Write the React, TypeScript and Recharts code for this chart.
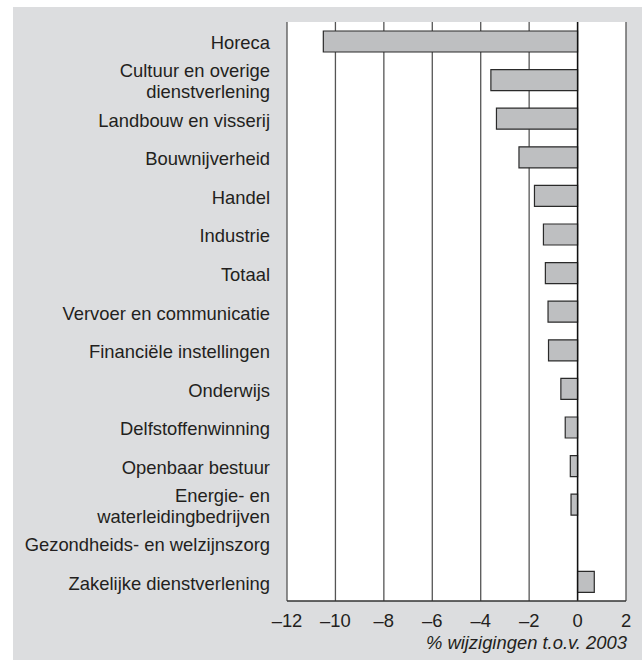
import React from 'react';
import { BarChart, Bar, XAxis, YAxis, CartesianGrid, ReferenceLine, Label } from 'recharts';

const categories = [
  'Horeca',
  'Cultuur en overige\ndienstverlening',
  'Landbouw en visserij',
  'Bouwnijverheid',
  'Handel',
  'Industrie',
  'Totaal',
  'Vervoer en communicatie',
  'Financiële instellingen',
  'Onderwijs',
  'Delfstoffenwinning',
  'Openbaar bestuur',
  'Energie- en\nwaterleidingbedrijven',
  'Gezondheids- en welzijnszorg',
  'Zakelijke dienstverlening',
];

const values = [-10.5, -3.58, -3.35, -2.42, -1.78, -1.41, -1.33, -1.22, -1.2, -0.69, -0.51, -0.3, -0.27, 0, 0.69];

const xTicks = [-12, -10, -8, -6, -4, -2, 0, 2];
const axisTitle = '% wijzigingen t.o.v. 2003';

const data = categories.map((name, i) => ({ name, value: values[i] }));

const FONT = '"Liberation Sans", Arial, Helvetica, sans-serif';
const TEXT = '#231f20';
const FS = 18.4;

function YTick(props: any) {
  const { x, y, payload } = props;
  const lines: string[] = String(payload.value).split('\n');
  const lh = 21;
  const start = y + 8 - ((lines.length - 1) * lh) / 2;
  return (
    <text x={x} y={start} textAnchor="end" fontSize={FS} fill={TEXT} fontFamily={FONT}>
      {lines.map((l, i) => (
        <tspan key={i} x={x} y={start + i * lh}>
          {l}
        </tspan>
      ))}
    </text>
  );
}

function fmt(v: number) {
  return v < 0 ? '\u2013' + Math.abs(v) : String(v);
}

function TitleContent(props: any) {
  const vb = props.viewBox || {};
  return (
    <text
      x={vb.x + vb.width + 1}
      y={vb.y + 48}
      textAnchor="end"
      fontSize={FS}
      fontStyle="italic"
      fill={TEXT}
      fontFamily={FONT}
    >
      {axisTitle}
    </text>
  );
}

export default function App() {
  return (
    <div style={{ position: 'absolute', left: 0, top: 0, width: 642, height: 660 }}>
      <div
        style={{
          position: 'absolute',
          left: 13,
          top: 7,
          width: 629,
          height: 653,
          background: '#dcdddf',
        }}
      />
      <div style={{ position: 'absolute', left: 0, top: 0 }}>
        <BarChart
          width={642}
          height={660}
          data={data}
          layout="vertical"
          margin={{ top: 22, right: 16, bottom: 0, left: 17 }}
          barSize={21}
        >
          <CartesianGrid horizontal={false} vertical stroke="#555" strokeWidth={1.3} fill="#ffffff" fillOpacity={1} />
          <XAxis
            type="number"
            domain={[-12, 2]}
            ticks={xTicks}
            tickFormatter={fmt}
            height={59}
            tickSize={0}
            tickMargin={13}
            axisLine={{ stroke: '#333', strokeWidth: 1.3 }}
            tickLine={false}
            tick={{ fontSize: FS, fill: TEXT, fontFamily: FONT }}
            interval={0}
          >
            <Label content={<TitleContent />} />
          </XAxis>
          <XAxis
            xAxisId="top"
            orientation="top"
            type="number"
            domain={[-12, 2]}
            ticks={xTicks}
            height={0}
            tick={false}
            tickLine={false}
            axisLine={{ stroke: '#333', strokeWidth: 1.3 }}
          />
          <YAxis
            type="category"
            dataKey="name"
            width={270}
            tickSize={0}
            tickMargin={17}
            axisLine={false}
            tickLine={false}
            tick={<YTick />}
            interval={0}
          />
          <ReferenceLine x={0} stroke="#111" strokeWidth={1.4} />
          <Bar
            dataKey="value"
            fill="#bebfc1"
            stroke="#2a2a2a"
            strokeWidth={1.2}
            isAnimationActive={false}
          />
        </BarChart>
      </div>
    </div>
  );
}
